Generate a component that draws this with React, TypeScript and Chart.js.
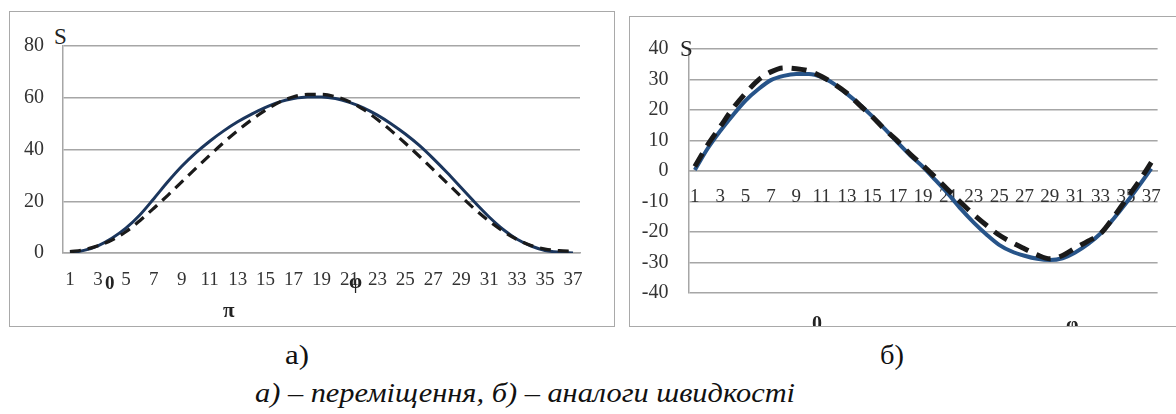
import React, { useEffect, useRef } from "react";
import { Chart, registerables } from "chart.js";

Chart.register(...registerables);

const categories = [
  "1", "2", "3", "4", "5", "6", "7", "8", "9", "10", "11", "12", "13", "14", "15", "16", "17", "18", "19",
  "20", "21", "22", "23", "24", "25", "26", "27", "28", "29", "30", "31", "32", "33", "34", "35", "36", "37",
];

// a) displacement
const displacementSolid = [
  0, 1.0, 2.8, 5.7, 9.6, 14.7, 21, 27.5, 33.5, 38.7, 43.2, 47.2, 50.7, 53.7, 56.3, 58.4, 59.7, 60.3, 60.3,
  59.7, 58.2, 56.1, 53.3, 49.9, 46.0, 41.6, 36.5, 31.0, 25.2, 19.4, 13.9, 9.1, 5.3, 2.7, 1.0, 0.3, 0,
];
const displacementDashed = [
  0.5, 1.3, 2.8, 5.0, 8.2, 12.5, 17.3, 22.3, 27.5, 32.7, 37.8, 42.7, 47.3, 51.5, 55.2, 58.3, 60.4, 61.3, 61.3,
  60.4, 58.5, 55.5, 51.6, 47.2, 42.4, 37.4, 32.2, 27.0, 21.8, 16.8, 12.3, 8.4, 5.2, 2.9, 1.5, 0.9, 0.6,
];

// б) velocity analogues
const velocitySolid = [
  0.3, 7.3, 13.1, 18.3, 23.1, 26.8, 29.8, 31.2, 31.8, 31.8, 30.8, 28.5, 25.3, 21.8, 17.9, 13.7, 9.3, 5.1, 1.3,
  -3.1, -7.6, -12.5, -16.9, -20.8, -24.2, -26.4, -27.8, -28.8, -29.2, -28.6, -26.7, -24, -20.5, -15.8, -10.6, -5, 0.8,
];
const velocityDashed = [
  1.5, 8.5, 14.5, 20.5, 25.5, 29.8, 32.5, 33.8, 33.5, 32.8, 31, 28.5, 25.5, 21.6, 17.8, 13.5, 9.8, 5.5, 1.8,
  -2.2, -6.3, -10.4, -14.3, -17.8, -21, -23.4, -25.5, -27.5, -28.8, -27.7, -25.3, -23, -20.5, -15.3, -9.4, -3.6, 2.8,
];

const leftYRange = [0, 80, 20];
const rightYRange = [-40, 40, 10];

const SERIF = "'Liberation Serif', 'Times New Roman', 'DejaVu Serif', serif";
const GRID = "#a6a6a6";
const TEXT = "#333333";

function oddLabels(_v: any, index: number) {
  return index % 2 === 0 ? categories[index] : "";
}

function LeftChart() {
  const ref = useRef<HTMLCanvasElement | null>(null);
  useEffect(() => {
    if (!ref.current) return;
    const chart = new Chart(ref.current, {
      type: "line",
      data: {
        labels: categories,
        datasets: [
          {
            data: displacementDashed,
            borderColor: "#1a1a1a",
            borderWidth: 3.2,
            borderDash: [11, 7],
            pointRadius: 0,
            cubicInterpolationMode: "monotone",
            fill: false,
          },
          {
            data: displacementSolid,
            borderColor: "#1b365d",
            borderWidth: 3,
            pointRadius: 0,
            cubicInterpolationMode: "monotone",
            fill: false,
          },
        ],
      },
      options: {
        animation: false,
        responsive: false,
        events: [],
        layout: { padding: { top: 34, right: 33, left: 0, bottom: 0 } },
        plugins: { legend: { display: false }, tooltip: { enabled: false } },
        scales: {
          x: {
            type: "category",
            offset: true,
            grid: { display: false, drawTicks: false },
            border: { display: true, color: GRID, width: 1.5 },
            ticks: {
              autoSkip: false,
              maxRotation: 0,
              minRotation: 0,
              padding: 16,
              color: TEXT,
              font: { family: SERIF, size: 19 },
              callback: oddLabels,
            },
            afterFit: (s: any) => {
              s.height = 72;
            },
          },
          y: {
            min: leftYRange[0],
            max: leftYRange[1],
            grid: { color: GRID, lineWidth: 1.5, drawTicks: false },
            border: { display: true, color: GRID, width: 1.5 },
            ticks: {
              stepSize: leftYRange[2],
              padding: 19,
              color: TEXT,
              font: { family: SERIF, size: 20 },
            },
            afterFit: (s: any) => {
              s.width = 53;
            },
          },
        },
      },
    });
    return () => chart.destroy();
  }, []);
  return <canvas ref={ref} width={603} height={313} style={{ width: 603, height: 313, display: "block" }} />;
}

function RightChart() {
  const ref = useRef<HTMLCanvasElement | null>(null);
  useEffect(() => {
    if (!ref.current) return;
    const chart = new Chart(ref.current, {
      type: "line",
      data: {
        labels: categories,
        datasets: [
          {
            data: velocityDashed,
            borderColor: "#1a1a1a",
            borderWidth: 5,
            borderDash: [15, 9],
            pointRadius: 0,
            cubicInterpolationMode: "monotone",
            fill: false,
          },
          {
            data: velocitySolid,
            borderColor: "#275489",
            borderWidth: 4,
            pointRadius: 0,
            cubicInterpolationMode: "monotone",
            fill: false,
          },
        ],
      },
      options: {
        animation: false,
        responsive: false,
        events: [],
        layout: { padding: { top: 26, right: 17, left: 0, bottom: 22 } },
        plugins: { legend: { display: false }, tooltip: { enabled: false } },
        scales: {
          x: {
            type: "category",
            offset: true,
            position: { y: 0 } as any,
            grid: { display: false, drawTicks: false },
            border: { display: true, color: GRID, width: 1.5 },
            ticks: {
              autoSkip: false,
              maxRotation: 0,
              minRotation: 0,
              padding: 15,
              color: TEXT,
              font: { family: SERIF, size: 19 },
              callback: oddLabels,
            },
          },
          y: {
            min: rightYRange[0],
            max: rightYRange[1],
            grid: { color: GRID, lineWidth: 1.5, drawTicks: false },
            border: { display: true, color: GRID, width: 1.5 },
            ticks: {
              stepSize: rightYRange[2],
              padding: 20,
              color: TEXT,
              font: { family: SERIF, size: 20 },
            },
            afterFit: (s: any) => {
              s.width = 58.5;
            },
          },
        },
      },
    });
    return () => chart.destroy();
  }, []);
  return <canvas ref={ref} width={546} height={308} style={{ width: 546, height: 308, display: "block" }} />;
}

const abs = (left: number, top: number, extra: React.CSSProperties = {}): React.CSSProperties => ({
  position: "absolute",
  left,
  top,
  lineHeight: 1,
  fontFamily: SERIF,
  color: "#222",
  whiteSpace: "nowrap",
  ...extra,
});

function FitText({ left, top, width, children, style }: { left: number; top: number; width: number; children: any; style: React.CSSProperties }) {
  const ref = useRef<HTMLSpanElement | null>(null);
  useEffect(() => {
    const el = ref.current;
    if (!el) return;
    el.style.transform = "none";
    const w = el.getBoundingClientRect().width;
    if (w > 0) el.style.transform = `scaleX(${width / w})`;
  }, [width]);
  return (
    <span ref={ref} style={{ ...abs(left, top, style), display: "inline-block", transformOrigin: "0 0" }}>
      {children}
    </span>
  );
}

export default function App() {
  return (
    <div
      style={{
        position: "absolute",
        left: 0,
        top: 0,
        width: 1176,
        height: 414,
        overflow: "hidden",
        background: "#fff",
      }}
    >
      {/* left box */}
      <div
        style={{
          position: "absolute",
          left: 9,
          top: 11,
          width: 606,
          height: 316,
          border: "1.5px solid #a9a9a9",
          boxSizing: "border-box",
          overflow: "hidden",
        }}
      >
        <div style={abs(44, 13, { fontSize: 23 })}>S</div>
        <div style={{ position: "absolute", left: 0, top: 0 }}>
          <LeftChart />
        </div>
        <div style={abs(95, 261, { fontSize: 19, fontWeight: "bold" })}>0</div>
        <div style={abs(339, 259, { fontSize: 21, fontWeight: "bold" })}>φ</div>
        <div style={abs(213, 288, { fontSize: 21, fontWeight: "bold" })}>π</div>
      </div>

      {/* right box */}
      <div
        style={{
          position: "absolute",
          left: 629,
          top: 16,
          width: 600,
          height: 311,
          border: "1.5px solid #a9a9a9",
          boxSizing: "border-box",
          overflow: "hidden",
        }}
      >
        <div style={{ position: "absolute", left: 0, top: 0 }}>
          <RightChart />
        </div>
        <div style={abs(50, 20, { fontSize: 23 })}>S</div>
        <div style={abs(182, 296, { fontSize: 20, fontWeight: "bold" })}>0</div>
        <div style={abs(436, 297, { fontSize: 20, fontWeight: "bold" })}>φ</div>
      </div>

      <FitText left={285} top={341} width={24} style={{ fontSize: 28, color: "#111" }}>
        а)
      </FitText>
      <FitText left={880} top={341} width={24} style={{ fontSize: 28, color: "#111" }}>
        б)
      </FitText>
      <FitText left={255} top={379} width={540} style={{ fontSize: 28, fontStyle: "italic", color: "#111" }}>
        а) – переміщення, б) – аналоги швидкості
      </FitText>
    </div>
  );
}
